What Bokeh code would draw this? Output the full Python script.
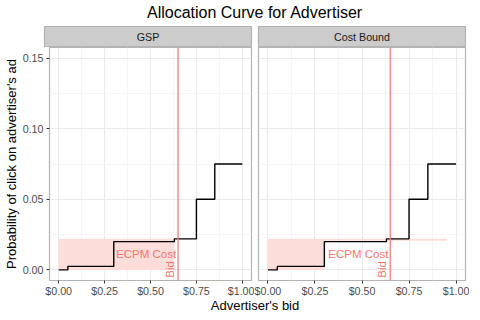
import math
from bokeh.plotting import figure
from bokeh.layouts import column, row
from bokeh.models import FixedTicker, NumeralTickFormatter, Range1d, Span
from bokeh.core.properties import value
from bokeh.embed import file_html
from bokeh.resources import INLINE

# ---------------- data ----------------
title_text = "Allocation Curve for Advertiser"
x_label = "Advertiser's bid"
y_label = "Probability of click on advertiser's ad"
panel_names = ["GSP", "Cost Bound"]

bid_x = [0.0, 0.05, 0.30, 0.63, 0.75, 0.85, 1.00]
click_prob = [0.0, 0.0025, 0.020, 0.022, 0.050, 0.075, 0.075]
bid = 0.65

gsp_left = [0.0]
gsp_right = [0.63]
gsp_bottom = [0.0]
gsp_top = [0.022]

cb_left = [0.0, 0.30]
cb_right = [0.30, 0.95]
cb_bottom = [0.0, 0.0207]
cb_top = [0.022, 0.022]

ecpm_label = "ECPM Cost"
ecpm_label_x = 0.64
ecpm_label_y = 0.011
bid_label = "Bid"
bid_label_y = -0.0055

x_ticks = [0.0, 0.25, 0.50, 0.75, 1.00]
x_minor = [0.125, 0.375, 0.625, 0.875]
y_ticks = [0.0, 0.05, 0.10, 0.15]
y_minor = [0.025, 0.075, 0.125]

# ---------------- style ----------------
FONT = "Liberation Sans"
RED = "#F8766D"
PINK = "#FDDDDA"
BORDER = "#B3B3B3"
LEFT_W, RIGHT_W = 254, 215
LEFT_MB = (44, 3)
RIGHT_MB = (4, 4)


def blank(width, height, mbl, mbr, bg="white"):
    f = figure(width=width, height=height, toolbar_location=None,
               output_backend="svg", x_range=Range1d(0, 1), y_range=Range1d(0, 1),
               x_axis_location=None, y_axis_location=None,
               min_border_left=mbl, min_border_right=mbr,
               min_border_top=0, min_border_bottom=0)
    f.xgrid.grid_line_color = None
    f.ygrid.grid_line_color = None
    f.background_fill_color = bg
    f.border_fill_color = "white"
    f.outline_line_color = None
    return f


# title
t = blank(LEFT_W + RIGHT_W, 26, LEFT_MB[0], RIGHT_MB[1])
t.text(x=[0.5], y=[0.54], text=[title_text], text_font=value(FONT),
       text_font_size="16px", text_color="black",
       text_align="center", text_baseline="middle")

# strips
strips = []
for name, w, mb in zip(panel_names, [LEFT_W, RIGHT_W], [LEFT_MB, RIGHT_MB]):
    s = blank(w, 21, mb[0], mb[1], bg="#CCCCCC")
    s.outline_line_color = BORDER
    s.outline_line_width = 1.2
    s.text(x=[0.5], y=[0.5], text=[name], text_font=value(FONT),
           text_font_size="10.7px", text_color="#1A1A1A",
           text_align="center", text_baseline="middle")
    strips.append(s)


def panel(w, mb, left, right, bottom, top, show_y):
    p = figure(width=w, height=252, toolbar_location=None, output_backend="svg",
               x_range=Range1d(-0.05, 1.05), y_range=Range1d(-0.0075, 0.1575),
               min_border_left=mb[0], min_border_right=mb[1],
               min_border_top=0, min_border_bottom=19)
    p.background_fill_color = "white"
    p.border_fill_color = "white"
    p.outline_line_color = BORDER
    p.outline_line_width = 1.2

    xt = FixedTicker(ticks=x_ticks, minor_ticks=x_minor)
    yt = FixedTicker(ticks=y_ticks, minor_ticks=y_minor)
    p.xaxis.ticker = xt
    p.yaxis.ticker = yt
    p.xgrid.ticker = xt
    p.ygrid.ticker = yt
    for g in (p.xgrid, p.ygrid):
        g.grid_line_color = "#EBEBEB"
        g.grid_line_width = 1
        g.minor_grid_line_color = "#F5F5F5"
        g.minor_grid_line_width = 1

    p.xaxis.formatter = NumeralTickFormatter(format="$0.00")
    p.yaxis.formatter = NumeralTickFormatter(format="0.00")
    for ax in (p.xaxis, p.yaxis):
        ax.axis_line_color = None
        ax.major_tick_line_color = "#333333"
        ax.major_tick_out = 3
        ax.major_tick_in = 0
        ax.minor_tick_line_color = None
        ax.major_label_text_font = FONT
        ax.major_label_text_font_size = "10.7px"
        ax.major_label_text_color = "#4D4D4D"
    p.xaxis.major_label_standoff = 0
    p.yaxis.major_label_standoff = 2
    if show_y:
        p.yaxis.axis_label = y_label
        p.yaxis.axis_label_text_font = FONT
        p.yaxis.axis_label_text_font_size = "13px"
        p.yaxis.axis_label_text_font_style = "normal"
        p.yaxis.axis_label_text_color = "black"
        p.yaxis.axis_label_standoff = 1
    else:
        p.yaxis.visible = False

    p.quad(left=left, right=right, bottom=bottom, top=top,
           fill_color=PINK, line_color=None)
    p.step(x=bid_x, y=click_prob, mode="after", line_color="black", line_width=1.4)
    p.add_layout(Span(location=bid, dimension="height", line_color=RED, line_width=1.2))
    p.text(x=[ecpm_label_x], y=[ecpm_label_y], text=[ecpm_label],
           text_font=value(FONT), text_font_size="11.5px", text_color=RED,
           text_align="right", text_baseline="middle")
    p.text(x=[bid], y=[bid_label_y], text=[bid_label], angle=math.pi / 2,
           text_font=value(FONT), text_font_size="11.5px", text_color=RED,
           text_align="left", text_baseline="bottom", x_offset=-2)
    return p


p1 = panel(LEFT_W, LEFT_MB, gsp_left, gsp_right, gsp_bottom, gsp_top, True)
p2 = panel(RIGHT_W, RIGHT_MB, cb_left, cb_right, cb_bottom, cb_top, False)

# shared x label
xl = blank(LEFT_W + RIGHT_W, 13, LEFT_MB[0], RIGHT_MB[1])
xl.text(x=[0.5], y=[0.56], text=[x_label], text_font=value(FONT),
        text_font_size="13px", text_color="black",
        text_align="center", text_baseline="middle")

layout = column(t, row(strips[0], strips[1]), row(p1, p2), xl, spacing=0)

with open("out.html", "w") as fh:
    fh.write(file_html(layout, INLINE))
